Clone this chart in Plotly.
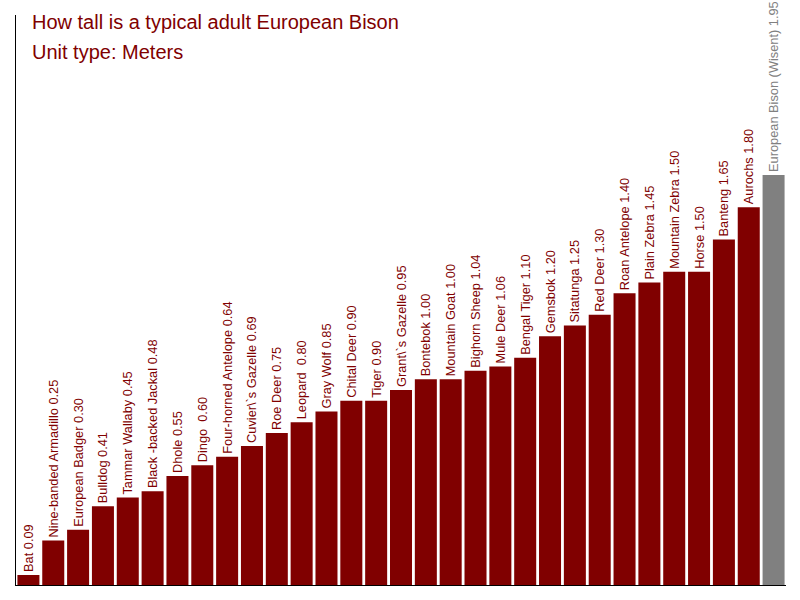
import plotly.graph_objects as go

names = ["Bat", "Nine-banded Armadillo", "European Badger", "Bulldog", "Tammar Wallaby",
         "Black -backed Jackal", "Dhole", "Dingo ", "Four-horned Antelope", "Cuvier\\`s Gazelle",
         "Roe Deer", "Leopard ", "Gray Wolf", "Chital Deer", "Tiger", "Grant\\`s Gazelle",
         "Bontebok", "Mountain Goat", "Bighorn Sheep", "Mule Deer", "Bengal Tiger", "Gemsbok",
         "Sitatunga", "Red Deer", "Roan Antelope", "Plain Zebra", "Mountain Zebra", "Horse",
         "Banteng", "Aurochs", "European Bison (Wisent)"]
heights = [0.09, 0.25, 0.30, 0.41, 0.45, 0.48, 0.55, 0.60, 0.64, 0.69, 0.75, 0.80, 0.85,
           0.90, 0.90, 0.95, 1.00, 1.00, 1.04, 1.06, 1.10, 1.20, 1.25, 1.30, 1.40, 1.45,
           1.50, 1.50, 1.65, 1.80, 1.95]
highlight = "European Bison (Wisent)"
y_range = [0.0435, 2.694]

RED = "#800000"
GRAY = "#808080"
FONT = "Liberation Sans, Arial, sans-serif"
colors = [GRAY if n == highlight else RED for n in names]
labels = [f"{n} {v:.2f}" for n, v in zip(names, heights)]

fig = go.Figure(go.Bar(
    x=list(range(len(names))),
    y=heights,
    marker=dict(color=colors, line=dict(width=0)),
    text=labels,
    textposition="outside",
    textangle=-90,
    constraintext="none",
    cliponaxis=False,
    textfont=dict(family=FONT, size=12.8, color=colors),
    hovertext=names,
))

fig.update_layout(
    width=800, height=600,
    margin=dict(l=16, r=13.6, t=15, b=15, autoexpand=False),
    paper_bgcolor="white", plot_bgcolor="white",
    bargap=0.114,
    showlegend=False,
    xaxis=dict(range=[-0.5, len(names) - 0.5], showticklabels=False, showgrid=False,
               zeroline=False, showline=True, linecolor="black", linewidth=1, ticks=""),
    yaxis=dict(range=y_range, showticklabels=False, showgrid=False, zeroline=False,
               showline=True, linecolor="black", linewidth=1, ticks=""),
    annotations=[
        dict(text="How tall is a typical adult European Bison", xref="paper", yref="paper",
             x=0.018, y=0.988, xanchor="left", yanchor="middle", showarrow=False,
             font=dict(family=FONT, size=20, color=RED)),
        dict(text="Unit type: Meters", xref="paper", yref="paper",
             x=0.018, y=0.935, xanchor="left", yanchor="middle", showarrow=False,
             font=dict(family=FONT, size=20, color=RED)),
    ],
)

fig.write_html("out.html", config={"displayModeBar": False},
               post_script="document.body.style.margin='0';")
